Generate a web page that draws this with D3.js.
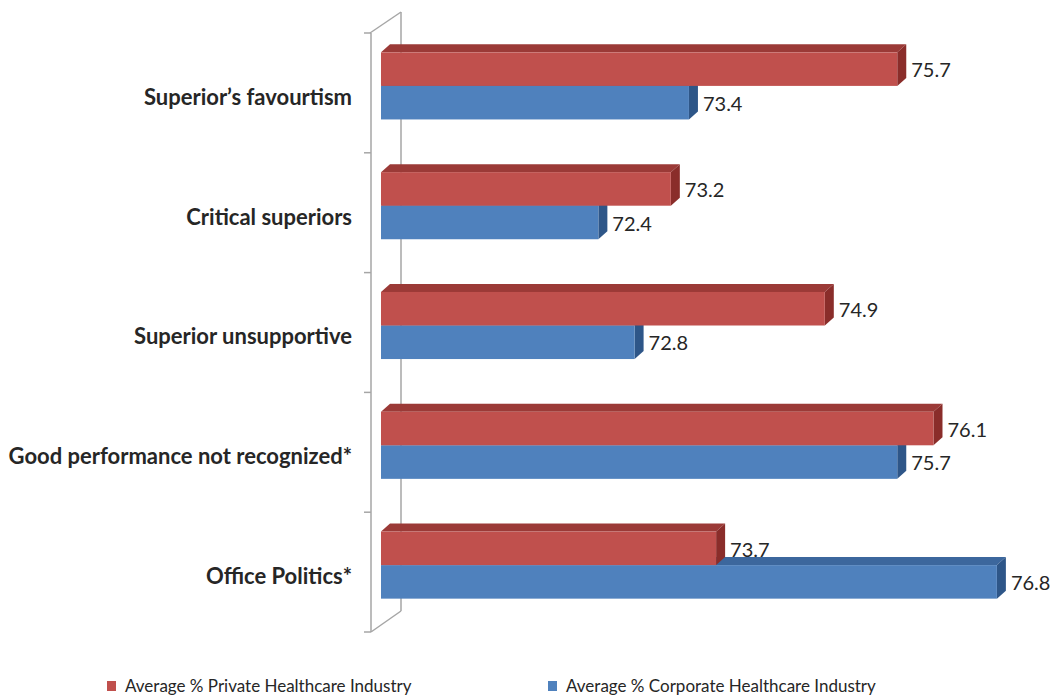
<!DOCTYPE html>
<html>
<head>
<meta charset="utf-8">
<script src="https://cdn.jsdelivr.net/npm/d3@7"></script>
<style>
  html, body { margin: 0; padding: 0; background: #fff; }
  svg { display: block; }
  text { font-family: Lato, "Open Sans", sans-serif; }
</style>
</head>
<body>
<svg id="chart" width="1055" height="698"></svg>
<script>
// Survey categories, top to bottom
const categories = [
  "Superior\u2019s favourtism",
  "Critical superiors",
  "Superior unsupportive",
  "Good performance not recognized*",
  "Office Politics*"
];
const seriesNames = [
  "Average % Private Healthcare Industry",
  "Average % Corporate Healthcare Industry"
];
const privateValues   = [75.7, 73.2, 74.9, 76.1, 73.7];
const corporateValues = [73.4, 72.4, 72.8, 75.7, 76.8];
const axisDomain = [70, 77];

const svg = d3.select("#chart");

// Face colours for each series: front, top, side
const palette = [
  { front: "#C0504D", top: "#9B3A37", side: "#8A2D2A", key: "#C0504D" },
  { front: "#4F81BD", top: "#3C679D", side: "#2E5688", key: "#4F81BD" }
];

// 3-D projection of the bar depth and wall depth
const depth = { dx: 9, dy: 8 };
const wall = { frontX: 371, backX: 401, shift: 21 };
const plotTop = 33, plotBottom = 632;

const x = d3.scaleLinear().domain(axisDomain).range([381, 1015]);

const y = d3.scaleBand()
  .domain(categories)
  .range([plotTop, plotBottom])
  .paddingInner(0.44)
  .paddingOuter(0.22);

const ySeries = d3.scaleBand()
  .domain(seriesNames)
  .range([0, y.bandwidth()]);

// bars sit a third of the way into the wall depth
const barLift = wall.shift / 3;

// ---- side wall ----
const wallG = svg.append("g")
  .attr("stroke", "#A6A6A6")
  .attr("stroke-width", 1.5)
  .attr("fill", "none");

wallG.append("line")
  .attr("x1", wall.frontX).attr("x2", wall.frontX)
  .attr("y1", plotTop).attr("y2", plotBottom);
wallG.append("line")
  .attr("x1", wall.backX).attr("x2", wall.backX)
  .attr("y1", plotTop - wall.shift).attr("y2", plotBottom - wall.shift);
wallG.append("line")
  .attr("x1", wall.frontX - 1).attr("y1", plotTop)
  .attr("x2", wall.backX).attr("y2", plotTop - wall.shift);
wallG.append("line")
  .attr("x1", wall.frontX).attr("y1", plotBottom)
  .attr("x2", wall.backX).attr("y2", plotBottom - wall.shift);

// category boundary ticks on the front edge
const boundaries = d3.range(categories.length + 1)
  .map(i => plotTop + i * y.step());
wallG.selectAll("line.tick")
  .data(boundaries)
  .join("line")
  .attr("class", "tick")
  .attr("x1", wall.frontX - 7).attr("x2", wall.frontX)
  .attr("y1", d => d).attr("y2", d => d);

// ---- bars ----
const rows = categories.map((c, i) => ({
  category: c,
  values: [
    { series: seriesNames[0], value: privateValues[i], colors: palette[0] },
    { series: seriesNames[1], value: corporateValues[i], colors: palette[1] }
  ]
}));

const poly = pts => pts.map(p => p.join(",")).join(" ");

const groups = svg.append("g").selectAll("g.cat")
  .data(rows)
  .join("g")
  .attr("class", "cat")
  .attr("transform", d => `translate(0,${y(d.category) - barLift})`);

// draw the lower series first so the upper one covers its top face
groups.each(function(d) {
  const g = d3.select(this);
  const ordered = d.values.slice().reverse();
  ordered.forEach(s => {
    const x0 = x(axisDomain[0]);
    const x1 = x(s.value);
    const yt = ySeries(s.series);
    const h = ySeries.bandwidth();
    const { dx, dy } = depth;
    const bar = g.append("g");
    bar.append("polygon")
      .attr("points", poly([[x0, yt], [x0 + dx, yt - dy], [x1 + dx, yt - dy], [x1, yt]]))
      .attr("fill", s.colors.top);
    bar.append("polygon")
      .attr("points", poly([[x1, yt], [x1 + dx, yt - dy], [x1 + dx, yt + h - dy], [x1, yt + h]]))
      .attr("fill", s.colors.side);
    bar.append("rect")
      .attr("x", x0).attr("y", yt)
      .attr("width", x1 - x0).attr("height", h)
      .attr("fill", s.colors.front);
  });
});

// value labels
groups.each(function(d) {
  const g = d3.select(this);
  d.values.forEach(s => {
    g.append("text")
      .attr("x", x(s.value) + depth.dx + 5)
      .attr("y", ySeries(s.series) + ySeries.bandwidth() / 2 + 1)
      .attr("dy", "0.36em")
      .attr("font-size", 20)
      .attr("fill", "#262626")
      .text(s.value.toFixed(1));
  });
});

// category labels
svg.append("g").selectAll("text")
  .data(categories)
  .join("text")
  .attr("x", 352)
  .attr("y", d => y(d) + y.bandwidth() / 2 + 4)
  .attr("dy", "0.36em")
  .attr("text-anchor", "end")
  .attr("font-size", 22)
  .attr("font-weight", "bold")
  .attr("fill", "#262626")
  .text(d => d);

// ---- legend ----
const legendX = [107, 548];
const legend = svg.append("g").selectAll("g")
  .data(seriesNames)
  .join("g")
  .attr("transform", (d, i) => `translate(${legendX[i]},686)`);
legend.append("rect")
  .attr("x", 0).attr("y", -5)
  .attr("width", 9).attr("height", 10)
  .attr("fill", (d, i) => palette[i].key);
legend.append("text")
  .attr("x", 18)
  .attr("dy", "0.36em")
  .attr("font-size", 17)
  .attr("fill", "#262626")
  .text(d => d);
</script>
</body>
</html>
